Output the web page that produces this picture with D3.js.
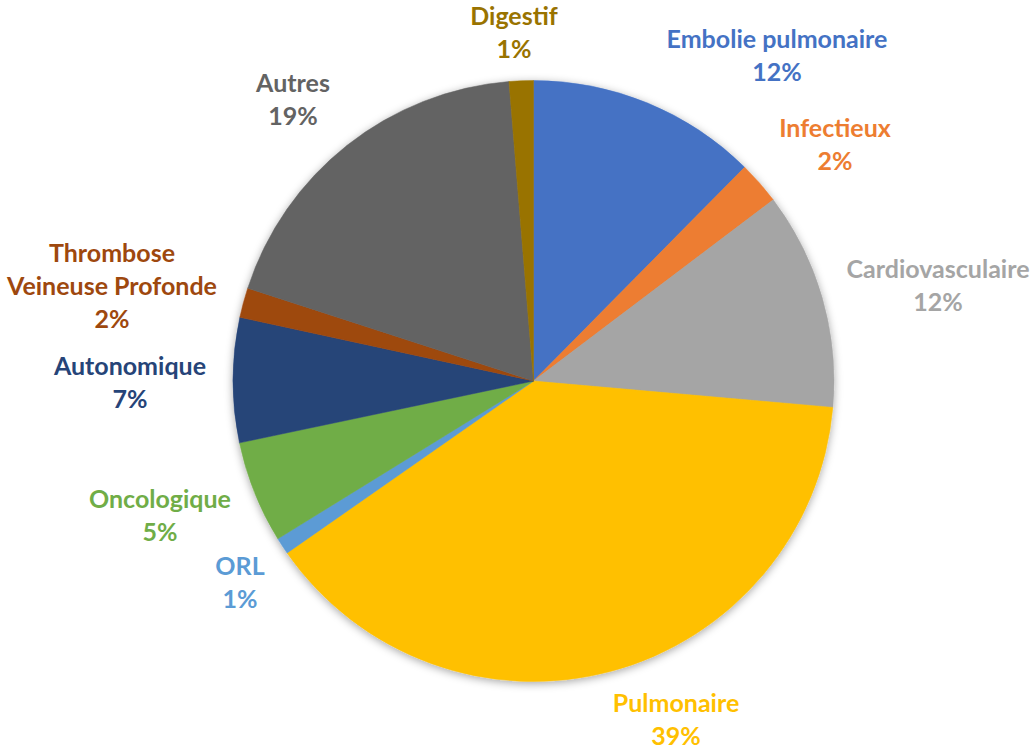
<!DOCTYPE html>
<html>
<head>
<meta charset="utf-8">
<script src="https://cdn.jsdelivr.net/npm/d3@7"></script>
<style>
  html, body { margin: 0; padding: 0; background: #fff; }
  svg { display: block; }
</style>
</head>
<body>
<div id="chart"></div>
<script>
// categories in clockwise order from 12 o'clock
const categories = ["Embolie pulmonaire", "Infectieux", "Cardiovasculaire", "Pulmonaire", "ORL",
  "Oncologique", "Autonomique", "Thrombose Veineuse Profonde", "Autres", "Digestif"];
const values = [12.4, 2.3, 11.7, 38.9, 0.9, 5.5, 6.7, 1.6, 18.7, 1.3];
const shownPct = ["12%", "2%", "12%", "39%", "1%", "5%", "7%", "2%", "19%", "1%"];
const colors = ["#4472C4", "#ED7D31", "#A5A5A5", "#FFC000", "#5B9BD5",
  "#70AD47", "#264478", "#9E480E", "#636363", "#997300"];

// label lines + where Excel put them (x centre, first baseline)
const labelLines = [["Embolie pulmonaire"], ["Infectieux"], ["Cardiovasculaire"], ["Pulmonaire"], ["ORL"],
  ["Oncologique"], ["Autonomique"], ["Thrombose", "Veineuse Profonde"], ["Autres"], ["Digestif"]];
const labelAt = [[777, 48], [835, 137], [938, 278], [676, 712], [240, 575],
  [160, 508], [130, 375], [112, 262], [293, 92], [514, 25]];

const width = 1033, height = 754;
const cx = 533.5, cy = 381, radius = 300.5;
const lineH = 33;

const svg = d3.select("#chart").append("svg")
    .attr("width", width)
    .attr("height", height)
    .style("font-family", "Lato, 'Open Sans', sans-serif")
    .style("font-weight", 700);

const defs = svg.append("defs");
const shadow = defs.append("filter")
    .attr("id", "shadow")
    .attr("x", "-10%").attr("y", "-10%")
    .attr("width", "120%").attr("height", "120%");
shadow.append("feDropShadow")
    .attr("dx", 0).attr("dy", 2)
    .attr("stdDeviation", 4)
    .attr("flood-color", "#000")
    .attr("flood-opacity", 0.35);

const pie = d3.pie().sort(null).value(d => d);
const arcs = pie(values);
const arc = d3.arc().innerRadius(0).outerRadius(radius);

const g = svg.append("g")
    .attr("transform", `translate(${cx},${cy})`)
    .attr("filter", "url(#shadow)");

g.selectAll("path")
  .data(arcs)
  .join("path")
    .attr("d", arc)
    .attr("fill", (d, i) => colors[i])
    .attr("stroke", (d, i) => colors[i])
    .attr("stroke-width", 0.5);

// data labels
const labels = svg.append("g")
  .selectAll("text")
  .data(categories)
  .join("text")
    .attr("text-anchor", "middle")
    .attr("font-size", 25)
    .attr("fill", (d, i) => colors[i])
    .attr("x", (d, i) => labelAt[i][0])
    .attr("y", (d, i) => labelAt[i][1]);

labels.each(function (d, i) {
  const t = d3.select(this);
  const lines = labelLines[i].concat([shownPct[i]]);
  lines.forEach((s, k) => {
    t.append("tspan")
      .attr("x", labelAt[i][0])
      .attr("dy", k === 0 ? 0 : lineH)
      .text(s);
  });
});
</script>
</body>
</html>
